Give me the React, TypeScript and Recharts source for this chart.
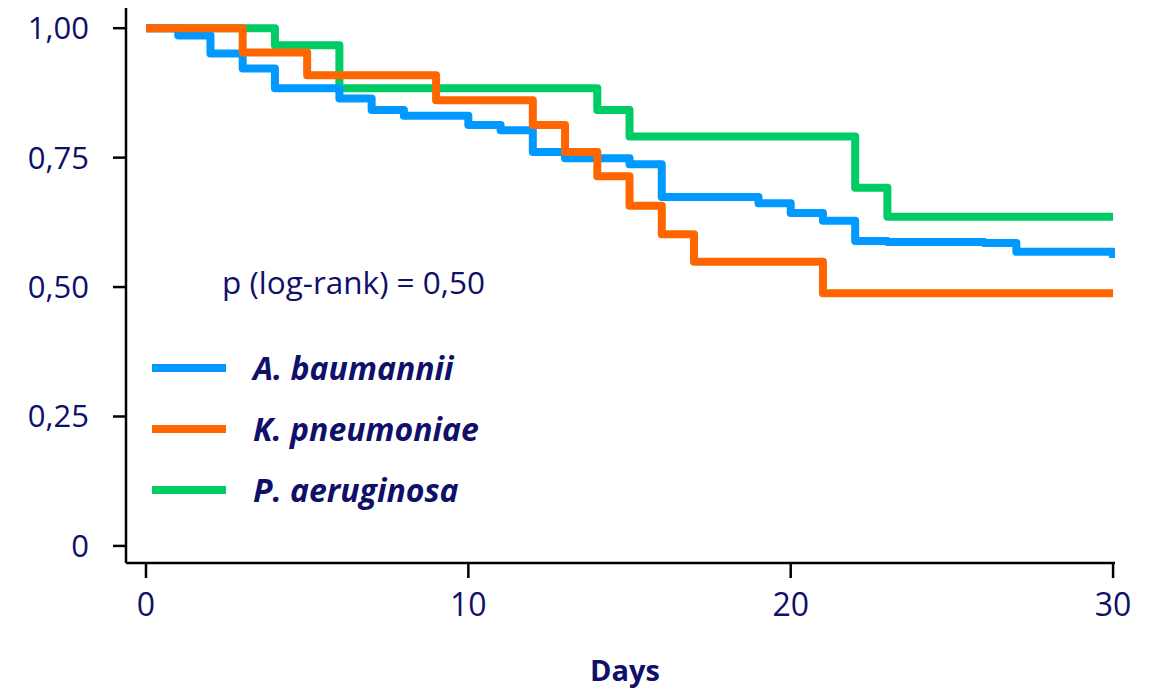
import { LineChart, Line, XAxis, YAxis, Legend } from "recharts";

// Kaplan-Meier steps (day, survival)
const baumanniiDays = [0, 1, 2, 3, 4, 6, 7, 8, 10, 11, 12, 13, 15, 16, 19, 20, 21, 22, 23, 26, 27, 30];
const baumanniiSurv = [1, 0.986, 0.951, 0.922, 0.884, 0.864, 0.842, 0.831, 0.813, 0.803, 0.761, 0.749, 0.737, 0.674, 0.662, 0.643, 0.628, 0.589, 0.587, 0.585, 0.568, 0.556];

const pneumoniaeDays = [0, 3, 5, 9, 12, 13, 14, 15, 16, 17, 21, 30];
const pneumoniaeSurv = [1, 0.953, 0.909, 0.861, 0.813, 0.761, 0.714, 0.657, 0.602, 0.549, 0.488, 0.488];

const aeruginosaDays = [0, 4, 6, 14, 15, 22, 23, 30];
const aeruginosaSurv = [1, 0.967, 0.884, 0.842, 0.791, 0.692, 0.636, 0.636];

const xTicks = [0, 10, 20, 30];
const yTicks = [0, 0.25, 0.5, 0.75, 1];

const NAVY = "#10106a";
const FONT = "'Open Sans', sans-serif";

const toRows = (days: number[], surv: number[]) =>
  days.map((d, i) => ({ day: d, s: surv[i] }));

const series = [
  { name: "A. baumannii", color: "#0099ff", data: toRows(baumanniiDays, baumanniiSurv) },
  { name: "K. pneumoniae", color: "#ff6600", data: toRows(pneumoniaeDays, pneumoniaeSurv) },
  { name: "P. aeruginosa", color: "#00cc66", data: toRows(aeruginosaDays, aeruginosaSurv) },
];

// draw order: green under, orange on top
const drawOrder = [2, 0, 1];

const fmtY = (v: number) => (v === 0 ? "0" : v.toFixed(2).replace(".", ","));

function LegendBox() {
  return (
    <div style={{ fontFamily: FONT }}>
      {series.map((s) => (
        <div
          key={s.name}
          style={{ display: "flex", alignItems: "center", height: 61 }}
        >
          <div style={{ width: 74, height: 8, background: s.color, marginRight: 27 }} />
          <span
            style={{
              color: NAVY,
              fontSize: 32,
              fontWeight: 700,
              fontStyle: "italic",
              lineHeight: 1,
            }}
          >
            {s.name}
          </span>
        </div>
      ))}
    </div>
  );
}

export default function App() {
  return (
    <div style={{ position: "absolute", left: 0, top: 0, width: 1155, height: 690, background: "#fff" }}>
      <LineChart
        width={1155}
        height={690}
        margin={{ top: 8, right: 40, left: 26, bottom: 67 }}
      >
        <XAxis
          type="number"
          dataKey="day"
          domain={[-0.62, 30.06]}
          ticks={xTicks}
          allowDataOverflow
          axisLine={{ stroke: "#000", strokeWidth: 2.5 }}
          tickLine={{ stroke: "#000", strokeWidth: 2.5 }}
          tickSize={15}
          tickMargin={15}
          height={60}
          tick={{ fill: NAVY, fontSize: 32, fontFamily: FONT }}
        />
        <YAxis
          type="number"
          domain={[-0.033, 1.039]}
          ticks={yTicks}
          allowDataOverflow
          width={100}
          axisLine={{ stroke: "#000", strokeWidth: 2.5 }}
          tickLine={{ stroke: "#000", strokeWidth: 2.5 }}
          tickSize={13}
          tickMargin={24}
          tickFormatter={fmtY}
          tick={{ fill: NAVY, fontSize: 31, fontFamily: FONT }}
        />
        {drawOrder.map((i) => {
          const s = series[i];
          return (
            <Line
              key={s.name}
              data={s.data}
              dataKey="s"
              name={s.name}
              type="stepAfter"
              stroke={s.color}
              strokeWidth={8}
              strokeLinejoin="round"
              dot={false}
              activeDot={false}
              isAnimationActive={false}
            />
          );
        })}
        <Legend
          layout="vertical"
          align="center"
          verticalAlign="middle"
          wrapperStyle={{ left: 152, top: 337, width: 400 }}
          content={() => <LegendBox />}
        />
        <text x={222} y={294} fill={NAVY} fontSize={31.5} fontFamily={FONT}>
          p (log-rank) = 0,50
        </text>
        <text
          x={625}
          y={681}
          fill={NAVY}
          fontSize={29}
          fontWeight={700}
          fontFamily={FONT}
          textAnchor="middle"
        >
          Days
        </text>
      </LineChart>
    </div>
  );
}
